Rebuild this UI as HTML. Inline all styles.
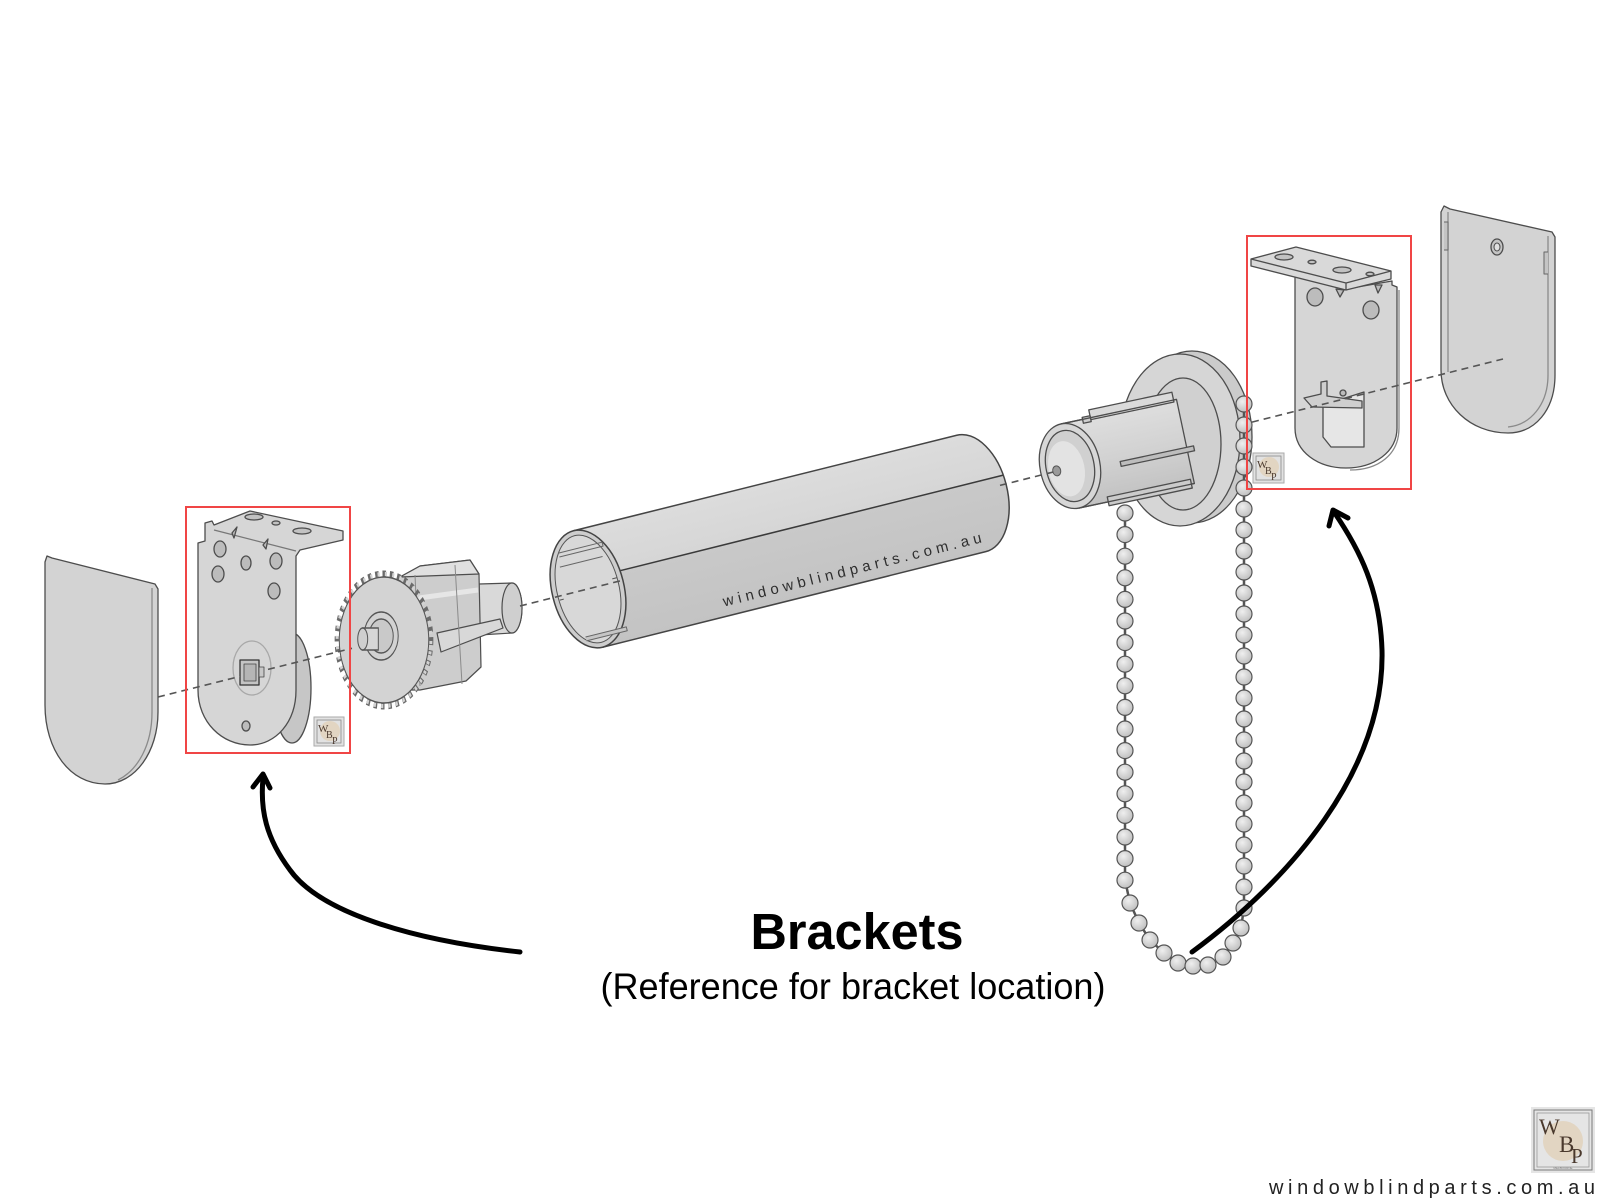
<!DOCTYPE html>
<html>
<head>
<meta charset="utf-8">
<style>
  html,body{margin:0;padding:0;background:#fff;}
  svg{display:block;}
</style>
</head>
<body>
<svg width="1600" height="1200" viewBox="0 0 1600 1200" xmlns="http://www.w3.org/2000/svg">
  <defs>
    <radialGradient id="ball" cx="0.4" cy="0.35" r="0.7">
      <stop offset="0" stop-color="#efefef"/>
      <stop offset="1" stop-color="#bdbdbd"/>
    </radialGradient>
    <linearGradient id="tubeG" gradientUnits="userSpaceOnUse" x1="0" y1="-60" x2="0" y2="60">
      <stop offset="0" stop-color="#dcdcdc"/>
      <stop offset="0.41" stop-color="#d6d6d6"/>
      <stop offset="0.42" stop-color="#c9c9c9"/>
      <stop offset="1" stop-color="#c3c3c3"/>
    </linearGradient>
    <linearGradient id="spoolG" gradientUnits="userSpaceOnUse" x1="0" y1="-43" x2="0" y2="43">
      <stop offset="0" stop-color="#dedede"/>
      <stop offset="0.5" stop-color="#d2d2d2"/>
      <stop offset="1" stop-color="#c2c2c2"/>
    </linearGradient>
  </defs>

  <rect x="0" y="0" width="1600" height="1200" fill="#ffffff"/>

  <!-- ===== Left end cap ===== -->
  <g stroke="#4d4d4d" stroke-width="1.3" stroke-linejoin="round">
    <path d="M45,562 L47,556 L52,558 L155,584 L158,589 L158,712 C158,752 135,784 105,784 C70,784 45,750 45,705 Z" fill="#d3d3d3"/>
    <path d="M152,588 L152,712 C152,745 138,770 118,780" fill="none" stroke="#8a8a8a"/>
  </g>

  <!-- ===== Left bracket ===== -->
  <g stroke="#4d4d4d" stroke-width="1.3" stroke-linejoin="round">
    <ellipse cx="292" cy="688" rx="19" ry="55" fill="#c6c6c6"/>
    <path d="M198,543 L205,541 L205,523 L212,521 L214,525 L250,511 L343,531 L343,540 L300,550 L296,556 L296,690 C296,722 276,745 250,745 C222,745 198,722 198,690 Z" fill="#d6d6d6"/>
    <path d="M214,530 L296,551" fill="none" stroke="#777"/>
    <ellipse cx="254" cy="517" rx="9" ry="3" fill="#c2c2c2"/>
    <ellipse cx="302" cy="531" rx="9" ry="3" fill="#c2c2c2"/>
    <ellipse cx="276" cy="523" rx="4" ry="2" fill="#c2c2c2"/>
    <path d="M232,533 L237,527 L234,538 Z" fill="#bcbcbc"/>
    <path d="M263,545 L268,539 L266,549 Z" fill="#bcbcbc"/>
    <ellipse cx="220" cy="549" rx="6" ry="8" fill="#bcbcbc"/>
    <ellipse cx="246" cy="563" rx="5" ry="7" fill="#bcbcbc"/>
    <ellipse cx="276" cy="561" rx="6" ry="8" fill="#bcbcbc"/>
    <ellipse cx="218" cy="574" rx="6" ry="8" fill="#bcbcbc"/>
    <ellipse cx="274" cy="591" rx="6" ry="8" fill="#bcbcbc"/>
    <ellipse cx="252" cy="668" rx="19" ry="27" fill="none" stroke="#a8a8a8"/>
    <rect x="240" y="660" width="19" height="25" fill="#c4c4c4" stroke="#333"/>
    <rect x="244" y="664" width="12" height="17" fill="#b5b5b5" stroke="#444" stroke-width="0.8"/>
    <rect x="259" y="667" width="5" height="10" fill="#c8c8c8" stroke="#444" stroke-width="0.8"/>
    <ellipse cx="246" cy="726" rx="4" ry="5" fill="#bcbcbc"/>
  </g>

  <!-- ===== Gear body (behind gear) ===== -->
  <g stroke="#4d4d4d" stroke-width="1.2" stroke-linejoin="round">
    <path d="M479,584 L512,583 A10,25 0 0 1 512,633 L479,635 Z" fill="#d9d9d9"/>
    <ellipse cx="512" cy="608" rx="10" ry="25" fill="#cfcfcf"/>
    <path d="M400,577 L420,566 L470,560 L479,574 L481,667 L466,681 L420,690 L402,690 Z" fill="#cdcdcd"/>
    <path d="M400,577 L420,566 L470,560 L479,574 Z" fill="#e0e0e0"/>
    <path d="M404,600 L478,590" fill="none" stroke="#e6e6e6" stroke-width="5"/>
    <path d="M437,633 L500,619 L503,628 L441,652 Z" fill="#d8d8d8"/>
    <path d="M415,575 L420,686 M455,565 L462,684" fill="none" stroke="#8a8a8a" stroke-width="1"/>
  </g>

  <!-- ===== Gear ===== -->
  <g transform="translate(384,640) scale(0.71,1)">
    <circle r="66.5" fill="none" stroke="#6a6a6a" stroke-width="6" stroke-dasharray="5 5.37"/>
    <circle r="66" fill="none" stroke="#d3d3d3" stroke-width="4.2" stroke-dasharray="3 7.37" stroke-dashoffset="-1"/>
    <circle r="63" fill="#d3d3d3" stroke="#555" stroke-width="1.4"/>
    <circle cx="-4" cy="-4" r="24" fill="#d2d2d2" stroke="#555" stroke-width="1.4"/>
    <circle cx="-4" cy="-4" r="17" fill="#c9c9c9" stroke="#555" stroke-width="1.4"/>
    <path d="M-30,-12 L-8,-12 L-8,10 L-30,10 Z" fill="#d6d6d6" stroke="#555" stroke-width="1.4"/>
    <ellipse cx="-30" cy="-1" rx="7" ry="11" fill="#cfcfcf" stroke="#555" stroke-width="1.4"/>
  </g>

  <!-- ===== Tube ===== -->
  <g transform="translate(588,589) rotate(-14)" stroke="#444" stroke-width="1.5" stroke-linejoin="round">
    <path d="M0,-60 L395,-60 A36,60 0 0 1 395,60 L0,60 Z" fill="url(#tubeG)"/>
    <path d="M35,-10 L430,-10" fill="none" stroke="#3a3a3a"/>
    <ellipse cx="0" cy="0" rx="36" ry="60" fill="#cdcdcd"/>
    <ellipse cx="0" cy="0" rx="31" ry="55" fill="#d8d8d8" stroke="#555" stroke-width="1"/>
    <path d="M-20,-42 L25,-42 L25,-38 L-20,-38 M-22,-28 L22,-28" fill="none" stroke="#666" stroke-width="1"/>
    <path d="M-14,46 L28,46 L28,50 L-14,50" fill="#c6c6c6" stroke="#666" stroke-width="1"/>
    <path d="M-30,4 L-26,4 M26,-4 L31,-4" fill="none" stroke="#555" stroke-width="1"/>
    <text x="128" y="50" font-family="Liberation Sans, sans-serif" font-size="15" fill="#2e2e2e" stroke="none" textLength="266" lengthAdjust="spacing">windowblindparts.com.au</text>
  </g>

  <!-- ===== Control unit disc ===== -->
  <g stroke="#4d4d4d" stroke-width="1.3">
    <ellipse cx="1192" cy="437" rx="60" ry="86" fill="#cbcbcb"/>
    <ellipse cx="1180" cy="440" rx="60" ry="86" fill="#d6d6d6"/>
    <ellipse cx="1183" cy="444" rx="38" ry="66" fill="#d0d0d0"/>
  </g>

  <!-- ===== Chain ===== -->
  <polyline points="1125,513 1125,880 1130,903 1139,923 1150,940 1164,953 1178,963 1193,966 1208,965 1223,957 1233,943 1241,928 1244,908 1244,404" fill="none" stroke="#555" stroke-width="2.5"/>
  <g fill="url(#ball)" stroke="#555" stroke-width="1.2">
    <circle cx="1125" cy="513" r="8"/><circle cx="1125" cy="534.6" r="8"/><circle cx="1125" cy="556.2" r="8"/>
    <circle cx="1125" cy="577.8" r="8"/><circle cx="1125" cy="599.4" r="8"/><circle cx="1125" cy="621" r="8"/>
    <circle cx="1125" cy="642.6" r="8"/><circle cx="1125" cy="664.2" r="8"/><circle cx="1125" cy="685.8" r="8"/>
    <circle cx="1125" cy="707.4" r="8"/><circle cx="1125" cy="729" r="8"/><circle cx="1125" cy="750.6" r="8"/>
    <circle cx="1125" cy="772.2" r="8"/><circle cx="1125" cy="793.8" r="8"/><circle cx="1125" cy="815.4" r="8"/>
    <circle cx="1125" cy="837" r="8"/><circle cx="1125" cy="858.6" r="8"/><circle cx="1125" cy="880.2" r="8"/>
    <circle cx="1130" cy="903" r="8"/><circle cx="1139" cy="923" r="8"/><circle cx="1150" cy="940" r="8"/>
    <circle cx="1164" cy="953" r="8"/><circle cx="1178" cy="963" r="8"/><circle cx="1193" cy="966" r="8"/>
    <circle cx="1208" cy="965" r="8"/><circle cx="1223" cy="957" r="8"/><circle cx="1233" cy="943" r="8"/>
    <circle cx="1241" cy="928" r="8"/><circle cx="1244" cy="908" r="8"/>
    <circle cx="1244" cy="887" r="8"/><circle cx="1244" cy="866" r="8"/><circle cx="1244" cy="845" r="8"/>
    <circle cx="1244" cy="824" r="8"/><circle cx="1244" cy="803" r="8"/><circle cx="1244" cy="782" r="8"/>
    <circle cx="1244" cy="761" r="8"/><circle cx="1244" cy="740" r="8"/><circle cx="1244" cy="719" r="8"/>
    <circle cx="1244" cy="698" r="8"/><circle cx="1244" cy="677" r="8"/><circle cx="1244" cy="656" r="8"/>
    <circle cx="1244" cy="635" r="8"/><circle cx="1244" cy="614" r="8"/><circle cx="1244" cy="593" r="8"/>
    <circle cx="1244" cy="572" r="8"/><circle cx="1244" cy="551" r="8"/><circle cx="1244" cy="530" r="8"/>
    <circle cx="1244" cy="509" r="8"/><circle cx="1244" cy="488" r="8"/><circle cx="1244" cy="467" r="8"/>
    <circle cx="1244" cy="446" r="8"/><circle cx="1244" cy="425" r="8"/><circle cx="1244" cy="404" r="8"/>
  </g>

  <!-- ===== Spool ===== -->
  <g transform="translate(1070,466) rotate(-12)" stroke="#4d4d4d" stroke-width="1.3" stroke-linejoin="round">
    <rect x="0" y="-43" width="118" height="86" fill="url(#spoolG)"/>
    <rect x="30" y="-51" width="85" height="10" fill="#dadada"/>
    <rect x="22" y="-45" width="8" height="6" fill="#cfcfcf"/>
    <rect x="50" y="6" width="75" height="5" fill="#bdbdbd"/>
    <rect x="30" y="38" width="85" height="9" fill="#cbcbcb"/>
    <path d="M0,-43 L118,-43 M0,43 L118,43" fill="none"/>
    <ellipse cx="0" cy="0" rx="30" ry="43" fill="#d7d7d7"/>
    <ellipse cx="0" cy="0" rx="24" ry="36" fill="#d0d0d0"/>
    <ellipse cx="-4" cy="2" rx="18" ry="28" fill="#e3e3e3" stroke="none"/>
    <ellipse cx="-14" cy="2" rx="4" ry="5" fill="#9a9a9a" stroke="#555" stroke-width="1"/>
  </g>

  <!-- ===== Right bracket ===== -->
  <g stroke="#4d4d4d" stroke-width="1.3" stroke-linejoin="round">
    <path d="M1399,290 L1399,428 C1399,455 1378,470 1350,470" fill="none" stroke="#888"/>
    <path d="M1295,268 L1346,289 L1392,281 L1392,285 L1397,287 L1397,428 C1397,452 1374,468 1346,468 C1318,468 1295,452 1295,428 Z" fill="#d6d6d6"/>
    <ellipse cx="1315" cy="297" rx="8" ry="9" fill="#bcbcbc"/>
    <ellipse cx="1371" cy="310" rx="8" ry="9" fill="#bcbcbc"/>
    <path d="M1336,289 L1340,297 L1344,290 Z" fill="#bcbcbc"/>
    <path d="M1375,285 L1378,293 L1382,285 Z" fill="#bcbcbc"/>
    <path d="M1251,259 L1296,247 L1391,271 L1391,279 L1346,290 L1251,266 Z" fill="#d9d9d9"/>
    <path d="M1251,259 L1346,283 L1391,271 M1346,283 L1346,290" fill="none"/>
    <ellipse cx="1284" cy="257" rx="9" ry="3" fill="#c2c2c2"/>
    <ellipse cx="1312" cy="262" rx="4" ry="1.8" fill="#c2c2c2"/>
    <ellipse cx="1342" cy="270" rx="9" ry="3" fill="#c2c2c2"/>
    <ellipse cx="1370" cy="274" rx="4" ry="1.8" fill="#c2c2c2"/>
    <path d="M1323,405 L1364,392 L1364,447 L1331,447 L1323,437 Z" fill="#e6e6e6"/>
    <path d="M1304,398 L1321,394 L1321,382 L1327,381 L1327,396 L1362,401 L1362,408 L1312,407 Z" fill="#cfcfcf"/>
    <circle cx="1343" cy="393" r="3" fill="#bcbcbc"/>
  </g>

  <!-- ===== Right end cap ===== -->
  <g stroke="#4d4d4d" stroke-width="1.3" stroke-linejoin="round">
    <path d="M1441,212 L1444,206 L1450,209 L1552,232 L1555,237 L1555,375 C1555,410 1535,433 1508,433 C1470,433 1441,405 1441,370 Z" fill="#d3d3d3"/>
    <path d="M1448,212 L1448,372" fill="none" stroke="#8a8a8a"/>
    <path d="M1548,236 L1548,375 C1548,405 1530,425 1508,427" fill="none" stroke="#8a8a8a"/>
    <path d="M1444,222 L1448,222 L1448,250 L1444,250" fill="#c4c4c4" stroke="#666" stroke-width="1"/>
    <path d="M1548,252 L1544,252 L1544,274 L1548,274" fill="#c4c4c4" stroke="#666" stroke-width="1"/>
    <ellipse cx="1497" cy="247" rx="6" ry="8" fill="#c4c4c4"/>
    <ellipse cx="1497" cy="247" rx="3" ry="4" fill="#e0e0e0" stroke-width="1"/>
  </g>

  <!-- ===== Dashed axis segments ===== -->
  <g stroke="#555" stroke-width="1.6" stroke-dasharray="7 5" fill="none">
    <line x1="158" y1="697" x2="240" y2="676.4"/>
    <line x1="268" y1="669.4" x2="352" y2="648.3"/>
    <line x1="520" y1="606" x2="622" y2="580.4"/>
    <line x1="1000" y1="485.4" x2="1058" y2="470.8"/>
    <line x1="1252" y1="422.1" x2="1503" y2="359"/>
  </g>

  <!-- ===== Red boxes ===== -->
  <rect x="186" y="507" width="164" height="246" fill="none" stroke="#f04545" stroke-width="2"/>
  <rect x="1247" y="236" width="164" height="253" fill="none" stroke="#f04545" stroke-width="2"/>

  <!-- ===== Small WBP badges ===== -->
  <g>
    <rect x="314" y="717" width="30" height="29" fill="#e2e2e2" stroke="#aaa" stroke-width="1"/>
    <rect x="317" y="720" width="24" height="23" fill="none" stroke="#8a8a8a" stroke-width="0.8"/>
    <circle cx="330" cy="731" r="10" fill="#e2d5c2"/>
    <text x="318" y="732" font-family="Liberation Serif, serif" font-size="11" fill="#4b3a2f">W</text>
    <text x="326" y="738" font-family="Liberation Serif, serif" font-size="10" fill="#4b3a2f">B</text>
    <text x="332" y="744" font-family="Liberation Serif, serif" font-size="10" fill="#4b3a2f">P</text>
  </g>
  <g>
    <rect x="1253" y="453" width="31" height="30" fill="#e2e2e2" stroke="#aaa" stroke-width="1"/>
    <rect x="1256" y="456" width="25" height="24" fill="none" stroke="#8a8a8a" stroke-width="0.8"/>
    <circle cx="1269" cy="467" r="10" fill="#e2d5c2"/>
    <text x="1257" y="468" font-family="Liberation Serif, serif" font-size="11" fill="#4b3a2f">W</text>
    <text x="1265" y="474" font-family="Liberation Serif, serif" font-size="10" fill="#4b3a2f">B</text>
    <text x="1271" y="480" font-family="Liberation Serif, serif" font-size="10" fill="#4b3a2f">P</text>
  </g>

  <!-- ===== Arrows ===== -->
  <g fill="none" stroke="#000" stroke-width="5" stroke-linecap="round" stroke-linejoin="round">
    <path d="M520,952 C410,940 320,912 290,870 C266,838 260,810 263,778"/>
    <path d="M253,787 L263,774 L270,788"/>
    <path d="M1192,952 C1290,880 1385,770 1382,650 C1380,590 1360,550 1334,512"/>
    <path d="M1329,526 L1333,510 L1348,518"/>
  </g>

  <!-- ===== Labels ===== -->
  <text x="857" y="949" font-family="Liberation Sans, sans-serif" font-weight="700" font-size="51" fill="#000" text-anchor="middle" textLength="213" lengthAdjust="spacingAndGlyphs">Brackets</text>
  <text x="853" y="999" font-family="Liberation Sans, sans-serif" font-size="37" fill="#000" text-anchor="middle" textLength="505" lengthAdjust="spacingAndGlyphs">(Reference for bracket location)</text>

  <!-- ===== Bottom-right logo ===== -->
  <g>
    <rect x="1531" y="1107" width="64" height="66" fill="#e5e5e5"/>
    <rect x="1534" y="1110" width="58" height="60" fill="none" stroke="#7a7a7a" stroke-width="1"/>
    <rect x="1537" y="1113" width="52" height="54" fill="none" stroke="#9a9a9a" stroke-width="0.8"/>
    <circle cx="1563" cy="1141" r="20" fill="#e2d5c2"/>
    <text x="1539" y="1134" font-family="Liberation Serif, serif" font-size="22" fill="#4a392d">W</text>
    <text x="1559" y="1152" font-family="Liberation Serif, serif" font-size="23" fill="#4a392d">B</text>
    <text x="1571" y="1163" font-family="Liberation Serif, serif" font-size="21" fill="#4a392d">P</text>
    <text x="1563" y="1169" font-family="Liberation Sans, sans-serif" font-size="3" fill="#777" text-anchor="middle">MELBOURNE</text>
  </g>
  <text x="1269" y="1194" font-family="Liberation Sans, sans-serif" font-size="20" fill="#222" textLength="326" lengthAdjust="spacing">windowblindparts.com.au</text>
</svg>
</body>
</html>
